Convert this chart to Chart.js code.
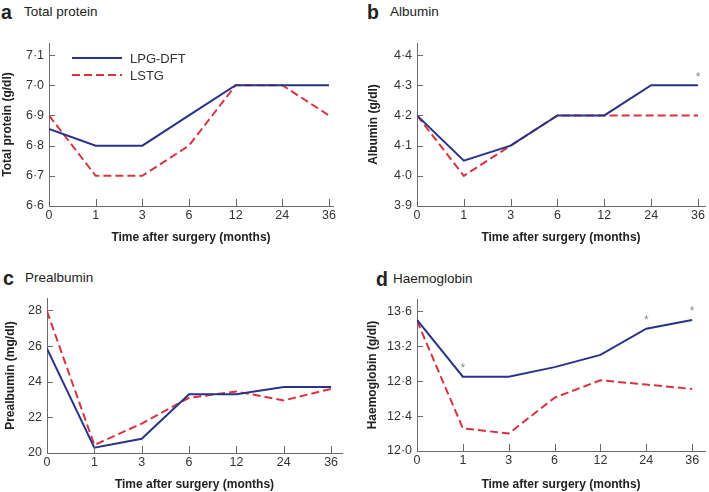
<!DOCTYPE html>
<html>
<head>
<meta charset="utf-8">
<script src="https://cdn.jsdelivr.net/npm/chart.js@4.4.1/dist/chart.umd.min.js"></script>
<style>
  body { margin: 0; background: #fff; font-family: "Liberation Sans", Arial, sans-serif; }
  #wrap { position: relative; width: 709px; height: 492px; overflow: hidden; }
  canvas { position: absolute; }
  .lt, .hd { position: absolute; color: #222; line-height: 20px; white-space: nowrap; }
  .lt { font-size: 19.5px; font-weight: bold; }
  .hd { font-size: 13.5px; }
</style>
</head>
<body>
<div id="wrap">
  <div class="lt" style="left:1px;top:2px">a</div><div class="hd" style="left:24px;top:2px">Total protein</div>
  <div class="lt" style="left:367px;top:2px">b</div><div class="hd" style="left:390px;top:2px">Albumin</div>
  <div class="lt" style="left:3px;top:268px">c</div><div class="hd" style="left:25px;top:268px">Prealbumin</div>
  <div class="lt" style="left:376px;top:269px">d</div><div class="hd" style="left:393px;top:269px">Haemoglobin</div>
  <canvas id="cA" width="355" height="245" style="left:0;top:0"></canvas>
  <canvas id="cB" width="354" height="245" style="left:355px;top:0"></canvas>
  <canvas id="cC" width="355" height="247" style="left:0;top:245px"></canvas>
  <canvas id="cD" width="354" height="247" style="left:355px;top:245px"></canvas>
</div>
<script>
const months = ["0", "1", "3", "6", "12", "24", "36"];

const proteinLPG = [6.855, 6.8, 6.8, 6.9, 7.0, 7.0, 7.0];
const proteinLSTG = [6.9, 6.7, 6.7, 6.8, 7.0, 7.0, 6.9];
const proteinTicks = [6.6, 6.7, 6.8, 6.9, 7.0, 7.1];

const albuminLPG = [4.2, 4.05, 4.1, 4.2, 4.2, 4.3, 4.3];
const albuminLSTG = [4.2, 4.0, 4.1, 4.2, 4.2, 4.2, 4.2];
const albuminTicks = [3.9, 4.0, 4.1, 4.2, 4.3, 4.4];
const albuminStars = [6];

const prealbLPG = [25.85, 20.3, 20.8, 23.3, 23.3, 23.7, 23.7];
const prealbLSTG = [27.95, 20.45, 21.65, 23.1, 23.45, 22.95, 23.6];
const prealbTicks = [20, 22, 24, 26, 28];

const hbLPG = [13.5, 12.85, 12.85, 12.96, 13.1, 13.4, 13.5];
const hbLSTG = [13.49, 12.26, 12.2, 12.61, 12.81, 12.76, 12.71];
const hbTicks = [12.0, 12.4, 12.8, 13.2, 13.6];
const hbStars = [1, 5, 6];

const BLUE = "#2a3387";
const RED = "#d7343f";
const AXIS = "#6a6a6a";
const TXT = "#333";
const FONT = "'Liberation Sans', Arial, sans-serif";

const dot = (v, d) => v.toFixed(d).replace(".", "\u00b7");

// tick marks pointing into the plot
const inwardTicks = {
  id: "inwardTicks",
  afterDraw(chart) {
    const { ctx, chartArea, scales } = chart;
    ctx.save();
    ctx.strokeStyle = AXIS;
    ctx.lineWidth = 1;
    ctx.beginPath();
    scales.x.ticks.forEach(t => {
      const px = Math.round(scales.x.getPixelForValue(t.value)) + 0.5;
      ctx.moveTo(px, chartArea.bottom);
      ctx.lineTo(px, chartArea.bottom - 7);
    });
    scales.y.ticks.forEach(t => {
      const py = Math.round(scales.y.getPixelForValue(t.value)) + 0.5;
      ctx.moveTo(chartArea.left, py);
      ctx.lineTo(chartArea.left + 6, py);
    });
    ctx.stroke();
    ctx.restore();
  }
};

const starMarks = {
  id: "starMarks",
  afterDatasetsDraw(chart, args, opts) {
    if (!opts.idx) return;
    const { ctx, scales } = chart;
    const vals = chart.data.datasets[0].data;
    ctx.save();
    ctx.fillStyle = "#8a8a8a";
    ctx.font = "12px " + FONT;
    ctx.textAlign = "center";
    ctx.textBaseline = "middle";
    opts.idx.forEach(i => {
      ctx.fillText("*", scales.x.getPixelForValue(i), scales.y.getPixelForValue(vals[i].y) - 8);
    });
    ctx.restore();
  }
};

const lineLegend = {
  id: "lineLegend",
  afterDraw(chart, args, opts) {
    if (!opts.show) return;
    const { ctx, chartArea } = chart;
    ctx.save();
    ctx.font = "13px " + FONT;
    ctx.textBaseline = "middle";
    chart.data.datasets.forEach((ds, k) => {
      const y = chartArea.top + 15 + k * 17;
      const x0 = chartArea.left + 23;
      ctx.strokeStyle = ds.borderColor;
      ctx.lineWidth = 2;
      ctx.setLineDash(ds.borderDash || []);
      ctx.beginPath();
      ctx.moveTo(x0, y);
      ctx.lineTo(x0 + 50, y);
      ctx.stroke();
      ctx.setLineDash([]);
      ctx.fillStyle = TXT;
      ctx.fillText(ds.label, x0 + 58, y + 1);
    });
    ctx.restore();
  }
};

function makeChart(id, c) {
  new Chart(document.getElementById(id), {
    type: "line",
    data: {
      datasets: [
        { label: "LPG-DFT", data: c.lpg.map((y, i) => ({ x: i, y })), borderColor: BLUE,
          borderWidth: 2, pointRadius: 0, tension: 0 },
        { label: "LSTG", data: c.lstg.map((y, i) => ({ x: i, y })), borderColor: RED,
          borderWidth: 2, borderDash: [8, 4], pointRadius: 0, tension: 0 }
      ]
    },
    options: {
      responsive: false,
      animation: false,
      events: [],
      layout: { padding: { top: c.top, right: c.right, left: 0, bottom: 0 } },
      plugins: {
        legend: { display: false },
        tooltip: { enabled: false },
        starMarks: { idx: c.stars },
        lineLegend: { show: !!c.legend }
      },
      scales: {
        x: {
          type: "linear", min: 0, max: c.xMax,
          grid: { display: false, drawTicks: false },
          border: { color: AXIS, width: 1 },
          afterBuildTicks: s => { s.ticks = months.map((m, i) => ({ value: i })); },
          afterFit: s => { s.height = c.xh; },
          ticks: { color: TXT, font: { family: FONT, size: 12.5 }, padding: 2,
                   autoSkip: false, maxRotation: 0, callback: v => months[v] },
          title: { display: true, text: "Time after surgery (months)", color: "#222",
                   font: { family: FONT, size: 12, weight: "bold" }, padding: { top: 0, bottom: 0 } }
        },
        y: {
          min: c.yMin, max: c.yMax,
          grid: { display: false, drawTicks: false },
          border: { color: AXIS, width: 1 },
          afterBuildTicks: s => { s.ticks = c.ticks.map(v => ({ value: v })); },
          afterFit: s => { s.width = c.yw; },
          ticks: { color: TXT, font: { family: FONT, size: 12.5 }, padding: 5,
                   callback: v => dot(v, c.dec) },
          title: { display: true, text: c.yTitle, color: "#222",
                   font: { family: FONT, size: 12, weight: "bold" }, padding: { top: c.yTitlePad, bottom: 0 } }
        }
      }
    },
    plugins: [inwardTicks, starMarks, lineLegend]
  });
}

makeChart("cA", { lpg: proteinLPG, lstg: proteinLSTG, ticks: proteinTicks, dec: 1,
  yMin: 6.6, yMax: 7.14, xMax: 6.086, top: 43, right: 22, xh: 39, yw: 49,
  yTitle: "Total protein (g/dl)", yTitlePad: 0, legend: true });

makeChart("cB", { lpg: albuminLPG, lstg: albuminLSTG, ticks: albuminTicks, dec: 1, stars: albuminStars,
  yMin: 3.9, yMax: 4.44, xMax: 6.15, top: 43, right: 4, xh: 39, yw: 62,
  yTitle: "Albumin (g/dl)", yTitlePad: 11 });

makeChart("cC", { lpg: prealbLPG, lstg: prealbLSTG, ticks: prealbTicks, dec: 0,
  yMin: 20, yMax: 28.7, xMax: 6.23, top: 53, right: 13, xh: 39, yw: 47,
  yTitle: "Prealbumin (mg/dl)", yTitlePad: 3 });

makeChart("cD", { lpg: hbLPG, lstg: hbLSTG, ticks: hbTicks, dec: 1, stars: hbStars,
  yMin: 12.0, yMax: 13.74, xMax: 6.28, top: 54, right: 4, xh: 41, yw: 62,
  yTitle: "Haemoglobin (g/dl)", yTitlePad: 10 });
</script>
</body>
</html>
